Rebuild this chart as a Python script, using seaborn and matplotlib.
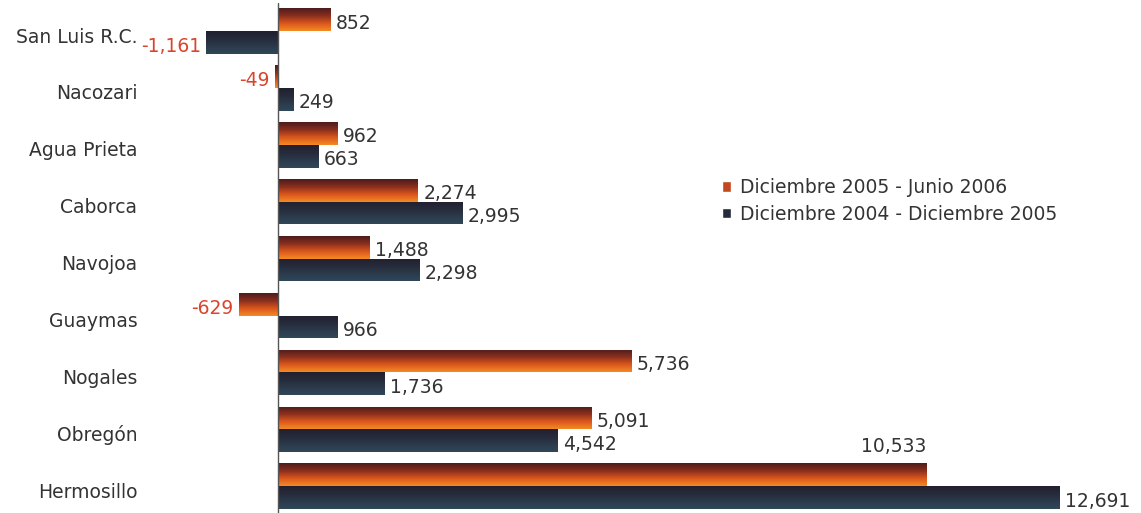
import numpy as np
import pandas as pd
import matplotlib
matplotlib.use('Agg')
import matplotlib.pyplot as plt
from matplotlib.colors import LinearSegmentedColormap
from matplotlib.patches import Patch
from matplotlib.transforms import ScaledTranslation
import seaborn as sns

cities = ['San Luis R.C.', 'Nacozari', 'Agua Prieta', 'Caborca', 'Navojoa',
          'Guaymas', 'Nogales', 'Obregón', 'Hermosillo']
serie_2006 = [852, -49, 962, 2274, 1488, -629, 5736, 5091, 10533]
serie_2005 = [-1161, 249, 663, 2995, 2298, 966, 1736, 4542, 12691]
lab_2006 = 'Diciembre 2005 - Junio 2006'
lab_2005 = 'Diciembre 2004 - Diciembre 2005'

df = pd.DataFrame({
    'ciudad': cities * 2,
    'valor': serie_2006 + serie_2005,
    'periodo': [lab_2006] * len(cities) + [lab_2005] * len(cities),
})

sns.set_style('white')
plt.rcParams['font.family'] = ['DejaVu Sans']
fs = 13.5

fig = plt.figure(figsize=(11.41, 5.13), dpi=100)
ax = fig.add_axes([0.1788, 0.0, 0.82, 0.995])

pal = {lab_2006: '#d9621f', lab_2005: '#252b3a'}
sns.barplot(data=df, x='valor', y='ciudad', hue='periodo', order=cities,
            hue_order=[lab_2006, lab_2005], palette=pal, orient='h',
            width=0.8, ax=ax, legend=False, saturation=1)

# gradientes (arriba oscuro, abajo claro)
cm_or = LinearSegmentedColormap.from_list('or', ['#4e1c1c', '#8a2f1e', '#d9561c', '#f48a24'])
cm_az = LinearSegmentedColormap.from_list('az', ['#22202e', '#262b3b', '#2b3a4c', '#2f4858'])
grad = np.linspace(0, 1, 64).reshape(-1, 1)
n = len(cities)
for i, p in enumerate(ax.patches[:2 * n]):
    cm = cm_or if i < n else cm_az
    x0, y0 = p.get_x(), p.get_y()
    w, h = p.get_width(), p.get_height()
    im = ax.imshow(grad, cmap=cm, aspect='auto', interpolation='bilinear',
                   extent=[x0, x0 + w, y0 + h, y0], zorder=2)
    im.set_clip_path(p)
    p.set_facecolor('none')
    p.set_edgecolor('none')

# etiquetas
off = 90
for j, (a, b) in enumerate(zip(serie_2006, serie_2005)):
    for v, dy in ((a, -0.2), (b, 0.2)):
        txt = f'{v:,}'
        if v < 0:
            ax.text(v - off, j + dy + 0.07, txt, ha='right', va='center',
                    color='#d9452b', fontsize=fs)
        elif v == 10533:
            ax.text(v, j + dy - 0.5, txt, ha='right', va='center',
                    color='#333333', fontsize=fs)
        else:
            ax.text(v + off, j + dy + 0.06, txt, ha='left', va='center',
                    color='#333333', fontsize=fs)

ax.axvline(0, color='#555555', lw=1, zorder=3)
ax.set_xlim(-1200, 14000)
ax.set_ylim(8.47, -0.5)
ax.set_xlabel('')
ax.set_ylabel('')
ax.set_xticks([])
ax.tick_params(axis='y', length=0, pad=48, labelsize=fs, labelcolor='#333333')
shift = ScaledTranslation(0, -4 / 100, fig.dpi_scale_trans)
for t in ax.get_yticklabels():
    t.set_transform(t.get_transform() + shift)
sns.despine(ax=ax, left=True, bottom=True)

handles = [Patch(facecolor='#c2481f', label=lab_2006),
           Patch(facecolor='#252b3a', label=lab_2005)]
fig.legend(handles=handles, loc='upper left', bbox_to_anchor=(0.618, 0.685),
           frameon=False, fontsize=fs, handlelength=0.5, handleheight=0.5,
           handletextpad=0.45, labelspacing=0.38, labelcolor='#333333')

fig.savefig('out.png', dpi=100)
